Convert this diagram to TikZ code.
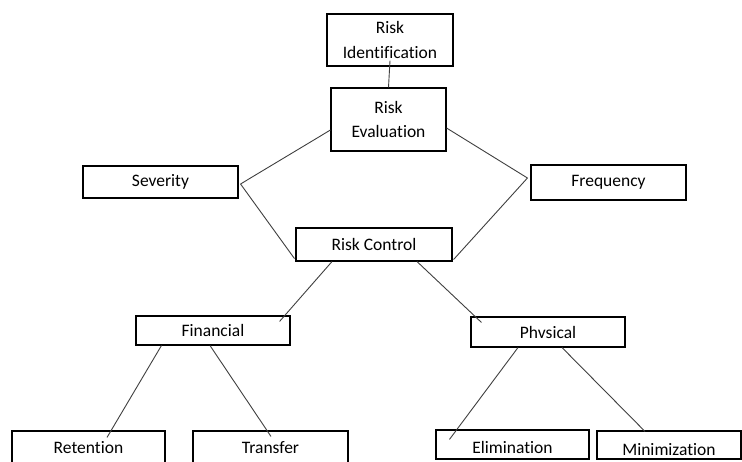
\documentclass[tikz,border=0pt]{standalone}
\usepackage{fontspec}
\setmainfont{Carlito}[Ligatures=NoCommon]
\usetikzlibrary{calc}
\begin{document}
\begin{tikzpicture}[x=1pt,y=-1pt,
  box/.style={draw=black, line width=1.1pt, rectangle, inner sep=0pt,
    font=\fontsize{17.5}{24.5}\selectfont, text=black},
  twoline/.style={box, align=center},
  conn/.style={draw=black!75, line width=0.9pt}]
\clip (0,0) rectangle (742,462);
\fill[white] (0,0) rectangle (742,462);
% boxes
\node[twoline, minimum width=126, minimum height=52] (ident) at (390,40) {Risk\\Identification};
\node[twoline, minimum width=115, minimum height=63] (eval) at (388.5,119.5) {Risk\\Evaluation};
\node[box, minimum width=155, minimum height=32] (sev) at (160.5,182) {Severity};
\node[box, minimum width=155, minimum height=35] (freq) at (608.5,182.5) {Frequency};
\node[box, minimum width=156, minimum height=33] (rc) at (374,244.5) {Risk Control};
\node[box, minimum width=154, minimum height=29] (fin) at (213,330.5) {Financial};
\node[box, minimum width=154, minimum height=30] (phys) at (548,332) {Phvsical};
\node[box, minimum width=153, minimum height=34] (ret) at (88.5,448) {Retention};
\node[box, minimum width=155, minimum height=34] (trans) at (270.5,448) {Transfer};
\node[box, minimum width=153, minimum height=29] (elim) at (512.5,444.5) {\raisebox{-2.5pt}[\height][\depth]{Elimination}};
\node[box, minimum width=144, minimum height=28] (mini) at (669,445) {\raisebox{-4.5pt}[\height][\depth]{Minimization}};
% connectors
\draw[conn] ($(ident.south)+(0,-6)$) -- (eval.north);
\draw[conn] ($(eval.west)+(0,10.5)$) -- ($(sev.east)+(2,2)$);
\draw[conn] ($(sev.east)+(2,2)$) -- ($(rc.south west)+(-1,-3)$);
\draw[conn] ($(eval.east)+(0,8.5)$) -- ($(freq.west)+(-3,-4.5)$);
\draw[conn] ($(freq.west)+(-3,-4.5)$) -- ($(rc.south east)+(1,-2)$);
\draw[conn] ($(rc.south)+(-42,0)$) -- ($(fin.north east)+(-11,6)$);
\draw[conn] ($(rc.south)+(43,0)$) -- ($(phys.north west)+(11,6)$);
\draw[conn] ($(fin.south west)+(26,0)$) -- ($(ret.north)+(18.5,7)$);
\draw[conn] ($(fin.south)+(-3,0)$) -- ($(trans.north)+(0.5,6)$);
\draw[conn] ($(phys.south)+(-30,0)$) -- ($(elim.north west)+(14,10)$);
\draw[conn] ($(phys.south)+(14,0)$) -- ($(mini.north)+(-24,1)$);
\end{tikzpicture}
\end{document}
